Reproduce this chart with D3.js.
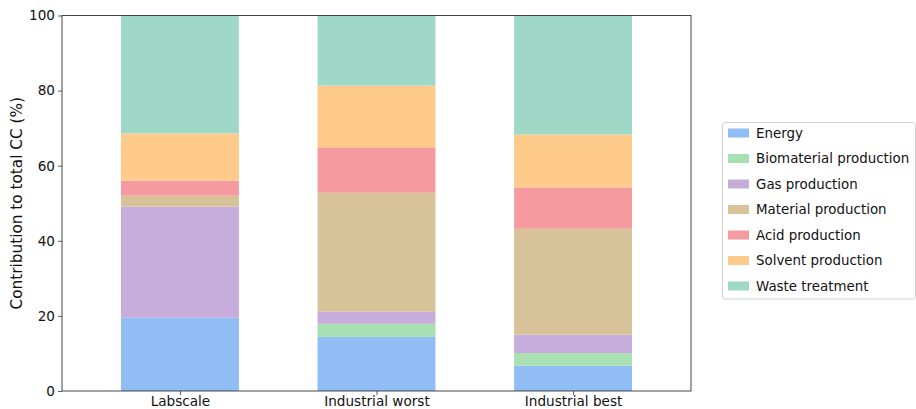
<!DOCTYPE html>
<html>
<head>
<meta charset="utf-8">
<script src="https://cdn.jsdelivr.net/npm/d3@7"></script>
<style>
  html, body { margin: 0; padding: 0; background: #fff; }
  svg { display: block; font-family: "DejaVu Sans", sans-serif; }
</style>
</head>
<body>
<svg id="chart" width="916" height="409"></svg>
<script>
// Scenarios on the x axis
const categories = ["Labscale", "Industrial worst", "Industrial best"];

// Contribution categories, bottom to top of each stack
const series = ["Energy", "Biomaterial production", "Gas production", "Material production",
                "Acid production", "Solvent production", "Waste treatment"];

// Share of total climate change impact (%) per scenario
const energy      = [19.5, 14.4, 6.75];
const biomaterial = [0.0, 3.5, 3.35];
const gas         = [29.6, 3.2, 4.9];
const material    = [2.9, 31.7, 28.2];
const acid        = [4.0, 12.1, 11.0];
const solvent     = [12.6, 16.4, 14.1];
const waste       = [31.4, 18.7, 31.7];

const yTicks = [0, 20, 40, 60, 80, 100];

const colors = ["#8fbdf4", "#a8e0b4", "#c6addc", "#d7c29a", "#f59a9f", "#fecb8b", "#a0d8c8"];

const seriesValues = [energy, biomaterial, gas, material, acid, solvent, waste];
const rows = categories.map((c, i) => {
  const r = { category: c };
  series.forEach((s, k) => { r[s] = seriesValues[k][i]; });
  return r;
});

const svg = d3.select("#chart");
const margin = { left: 62, right: 691, top: 15.5, bottom: 391 };

// Linear x over category index so bars can be 0.6 wide with matplotlib-like padding
const x = d3.scaleLinear().domain([-0.6, 2.6]).range([margin.left, margin.right]);
const y = d3.scaleLinear().domain([0, 100]).range([margin.bottom, margin.top]);
const barWidth = 0.6;

const stack = d3.stack().keys(series)(rows);

const g = svg.append("g");
g.selectAll("g.layer")
  .data(stack)
  .join("g")
  .attr("class", "layer")
  .attr("fill", (d, i) => colors[i])
  .selectAll("rect")
  .data(d => d)
  .join("rect")
  .attr("x", (d, i) => x(i - barWidth / 2))
  .attr("width", x(barWidth) - x(0))
  .attr("y", d => y(d[1]))
  .attr("height", d => y(d[0]) - y(d[1]));

// Axes
const yAxis = d3.axisLeft(y).tickValues(yTicks).tickSize(4).tickPadding(3);
const xAxis = d3.axisBottom(x).tickValues([0, 1, 2]).tickFormat(i => categories[i]).tickSize(4).tickPadding(2);

const ya = svg.append("g").attr("transform", `translate(${margin.left},0)`).call(yAxis);
const xa = svg.append("g").attr("transform", `translate(0,${margin.bottom})`).call(xAxis);
[ya, xa].forEach(a => {
  a.select(".domain").remove();
  a.selectAll(".tick line").attr("stroke", "#333").attr("stroke-width", 0.8);
  a.selectAll(".tick text").attr("font-size", 13.6).attr("fill", "#111")
    .attr("font-family", "DejaVu Sans, sans-serif");
});
xa.selectAll(".tick text").attr("dy", "0.68em");

// Frame
svg.append("rect")
  .attr("x", margin.left).attr("y", margin.top)
  .attr("width", margin.right - margin.left).attr("height", margin.bottom - margin.top)
  .attr("fill", "none").attr("stroke", "#333").attr("stroke-width", 0.9);

// Y axis title
svg.append("text")
  .attr("transform", `translate(22,${(margin.top + margin.bottom) / 2}) rotate(-90)`)
  .attr("text-anchor", "middle")
  .attr("font-size", 15.3)
  .attr("fill", "#111")
  .text("Contribution to total CC (%)");

// Legend
const legend = svg.append("g");
legend.append("rect")
  .attr("x", 722.5).attr("y", 122.5).attr("width", 193).attr("height", 176.5)
  .attr("rx", 3).attr("fill", "#fff").attr("stroke", "#d0d0d0").attr("stroke-width", 1);

const item = legend.selectAll("g.item")
  .data(series)
  .join("g")
  .attr("class", "item")
  .attr("transform", (d, i) => `translate(728,${133 + i * 25.5})`);
item.append("rect")
  .attr("x", 0).attr("y", -4.5).attr("width", 21).attr("height", 9)
  .attr("fill", (d, i) => colors[i]);
item.append("text")
  .attr("x", 28).attr("y", 0).attr("dy", "0.35em")
  .attr("font-size", 13.4).attr("fill", "#111")
  .text(d => d);
</script>
</body>
</html>
